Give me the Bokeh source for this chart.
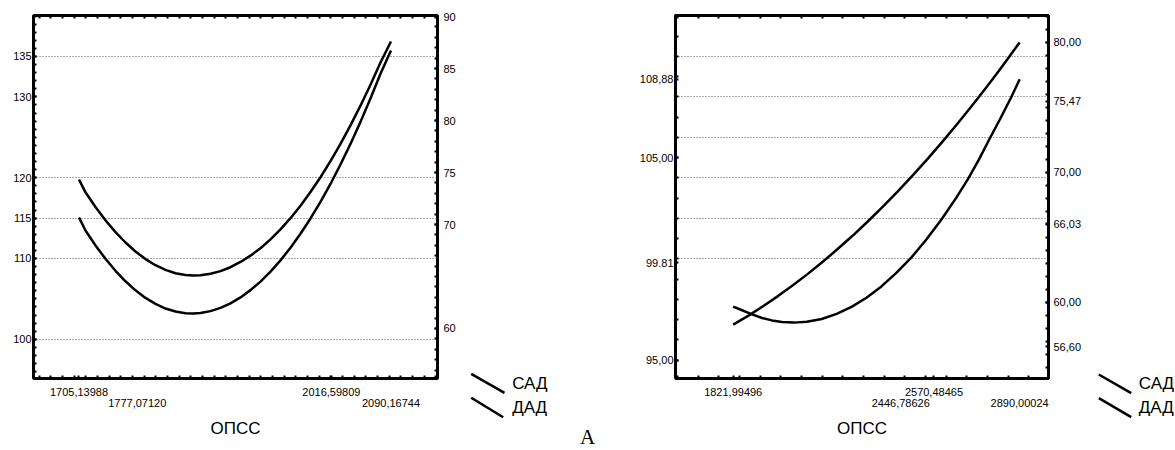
import numpy as np
from bokeh.plotting import figure
from bokeh.models import Range1d, LinearAxis, FixedTicker, CustomJSTickFormatter
from bokeh.layouts import row
from bokeh.embed import file_html
from bokeh.resources import INLINE
from bokeh.core.properties import value

FONT = "Liberation Sans"

# ---------------- Panel 1 data ----------------
p1_x = [1705.14, 1713.16, 1725.50, 1737.84, 1750.18, 1762.52, 1774.86, 1787.20, 1799.55,
        1811.89, 1824.23, 1836.57, 1846.45, 1855.09, 1867.43, 1879.77, 1892.11, 1904.45,
        1916.79, 1929.14, 1941.48, 1953.82, 1966.16, 1978.50, 1990.84, 2003.18, 2015.52,
        2027.86, 2040.20, 2052.55, 2064.88, 2077.23, 2090.17]
p1_sad = [119.78, 118.19, 116.37, 114.73, 113.27, 111.98, 110.87, 109.93, 109.17,
          108.59, 108.18, 107.96, 107.90, 107.93, 108.12, 108.44, 108.92, 109.57,
          110.35, 111.27, 112.36, 113.60, 114.99, 116.52, 118.22, 120.05, 122.04,
          124.18, 126.47, 128.91, 131.51, 134.26, 136.86]
p1_dad = [70.67, 69.42, 67.99, 66.70, 65.55, 64.54, 63.67, 62.94, 62.37,
          61.92, 61.63, 61.47, 61.44, 61.49, 61.67, 61.98, 62.42, 62.99,
          63.69, 64.51, 65.47, 66.55, 67.77, 69.11, 70.58, 72.18, 73.90,
          75.77, 77.75, 79.87, 82.12, 84.49, 86.74]

p1_x_ticks_row1 = [1705.13988, 2016.59809]
p1_x_labels_row1 = ["1705,13988", "2016,59809"]
p1_x_ticks_row2 = [1777.07120, 2090.16744]
p1_x_labels_row2 = ["1777,07120", "2090,16744"]
p1_left_ticks = [100, 110, 115, 120, 130, 135]
p1_left_labels = ["100", "110", "115", "120", "130", "135"]
p1_right_ticks = [60, 70, 75, 80, 85, 90]
p1_right_labels = ["60", "70", "75", "80", "85", "90"]
p1_grid = [100, 110, 115, 120, 135]

# ---------------- Panel 2 data ----------------
p2_sad_x = [1821.99, 1855.37, 1892.45, 1929.53, 1966.61, 2003.70, 2048.20, 2096.40,
            2152.03, 2207.66, 2263.29, 2318.92, 2374.54, 2430.17, 2485.79, 2541.42,
            2597.04, 2652.67, 2697.17, 2737.96, 2775.05, 2819.55, 2856.63, 2890.00]
p2_sad = [97.64, 97.46, 97.26, 97.08, 96.96, 96.88, 96.85, 96.89,
          97.03, 97.28, 97.63, 98.08, 98.64, 99.31, 100.06, 100.94,
          101.92, 103.00, 103.94, 104.90, 105.86, 106.97, 107.93, 108.87]
p2_dad_x = [1821.99, 1877.61, 1933.24, 1988.87, 2044.50, 2100.12, 2155.75, 2211.38,
            2267.00, 2322.63, 2378.26, 2433.89, 2489.51, 2545.14, 2600.77, 2656.40,
            2712.02, 2767.65, 2823.28, 2890.00]
p2_dad = [58.28, 58.96, 59.70, 60.48, 61.31, 62.19, 63.12, 64.10,
          65.12, 66.20, 67.33, 68.50, 69.73, 71.00, 72.33, 73.70,
          75.12, 76.59, 78.11, 80.00]

p2_x_ticks_row1 = [1821.99496, 2570.48465]
p2_x_labels_row1 = ["1821,99496", "2570,48465"]
p2_x_ticks_row2 = [2446.78626, 2890.00024]
p2_x_labels_row2 = ["2446,78626", "2890,00024"]
p2_left_ticks = [95.00, 99.81, 105.00, 108.88]
p2_left_labels = ["95,00", "99.81", "105,00", "108,88"]
p2_right_ticks = [56.60, 60.00, 66.03, 70.00, 75.47, 80.00]
p2_right_labels = ["56,60", "60,00", "66,03", "70,00", "75,47", "80,00"]
p2_grid = [100, 102, 104, 106, 108, 110]

legend_labels = ["САД", "ДАД"]
x_title = "ОПСС"
panel_tag = "А"


def fmt(ticks, labels):
    return CustomJSTickFormatter(args=dict(t=list(ticks), l=list(labels)), code="""
        for (let i = 0; i < t.length; i++) {
            if (Math.abs(t[i] - tick) < 1e-6 * Math.max(1, Math.abs(tick))) return l[i];
        }
        return "";
    """)


def style_ticks(ax, tin=3, tout=1):
    ax.axis_line_color = None
    ax.major_tick_in = tin
    ax.major_tick_out = tout
    ax.minor_tick_in = tin
    ax.minor_tick_out = tout
    ax.major_tick_line_width = 2
    ax.minor_tick_line_width = 2
    ax.major_tick_line_color = "black"
    ax.minor_tick_line_color = "black"
    ax.major_label_text_font = FONT
    ax.major_label_text_font_size = "11px"
    ax.major_label_text_color = "black"


def panel(width, bl, br, xr, yl, yr, sad_x, sad, dad_x, dad,
          r1t, r1l, r2t, r2l, lt, ll, rt, rl, grid, lminor, rminor, xminor,
          lstand, rstand):
    p = figure(width=width, height=450, x_range=Range1d(*xr), y_range=Range1d(*yl),
               output_backend="svg", toolbar_location=None,
               min_border_left=bl, min_border_right=br, min_border_top=15,
               min_border_bottom=72)
    p.extra_y_ranges = {"dad": Range1d(*yr)}
    p.outline_line_color = "black"
    p.outline_line_width = 3
    p.background_fill_color = "white"
    p.border_fill_color = "white"
    p.xgrid.visible = False
    p.ygrid.ticker = FixedTicker(ticks=grid)
    p.ygrid.grid_line_color = "#333333"
    p.ygrid.grid_line_dash = "1 2"
    p.ygrid.grid_line_width = 1
    p.ygrid.grid_line_alpha = 0.8

    lax = p.yaxis[0]
    lax.ticker = FixedTicker(ticks=lt, minor_ticks=list(lminor))
    lax.formatter = fmt(lt, ll)
    style_ticks(lax)
    lax.major_label_standoff = lstand

    rax = LinearAxis(y_range_name="dad", ticker=FixedTicker(ticks=rt, minor_ticks=list(rminor)),
                     formatter=fmt(rt, rl))
    style_ticks(rax)
    rax.major_label_standoff = rstand
    p.add_layout(rax, "right")

    bx = p.xaxis[0]
    bx.ticker = FixedTicker(ticks=r1t, minor_ticks=list(xminor))
    bx.formatter = fmt(r1t, r1l)
    style_ticks(bx)
    bx.major_label_standoff = 8

    bx2 = LinearAxis(ticker=FixedTicker(ticks=r2t), formatter=fmt(r2t, r2l))
    style_ticks(bx2, 0, 0)
    bx2.major_tick_line_color = None
    bx2.minor_tick_line_color = None
    bx2.major_label_standoff = 0
    bx2.axis_label = x_title
    bx2.axis_label_text_font = FONT
    bx2.axis_label_text_font_size = "17px"
    bx2.axis_label_text_font_style = "normal"
    bx2.axis_label_text_color = "black"
    bx2.axis_label_standoff = 9
    p.add_layout(bx2, "below")

    tx = LinearAxis(ticker=FixedTicker(ticks=[], minor_ticks=list(xminor)))
    style_ticks(tx, 3, 0)
    tx.major_label_text_font_size = "0px"
    tx.major_label_standoff = 0
    p.add_layout(tx, "above")

    p.line(sad_x, sad, line_color="black", line_width=2.5, line_join="round")
    p.line(dad_x, dad, line_color="black", line_width=2.5, line_join="round", y_range_name="dad")
    return p


def legend_fig(width, l1, l2, tx, ty, tag=None):
    f = figure(width=width, height=450, x_range=Range1d(0, width), y_range=Range1d(450, 0),
               output_backend="svg", toolbar_location=None, min_border=0,
               x_axis_location=None, y_axis_location=None, frame_align=False)
    f.grid.visible = False
    f.outline_line_color = None
    f.segment(x0=[l1[0], l2[0]], y0=[l1[1], l2[1]], x1=[l1[2], l2[2]], y1=[l1[3], l2[3]],
              line_color="black", line_width=2.5)
    f.text(x=[tx, tx], y=ty, text=legend_labels, text_font=value(FONT),
           text_font_size="17px", text_baseline="middle", text_align="left", text_color="black")
    if tag is not None:
        f.text(x=[tag[0]], y=[tag[1]], text=[panel_tag], text_font=value("Liberation Serif"),
               text_font_size="21px", text_baseline="middle", text_align="center", text_color="black")
    return f


p1 = panel(465, 33, 28, (1649.0, 2147.6), (95.15, 140.07), (55.19, 90.1),
           p1_x, p1_sad, p1_x, p1_dad,
           p1_x_ticks_row1, p1_x_labels_row1, p1_x_ticks_row2, p1_x_labels_row2,
           p1_left_ticks, p1_left_labels, p1_right_ticks, p1_right_labels, p1_grid,
           np.arange(96, 141, 1.0), np.arange(56, 91, 1.0), np.arange(1656, 2147, 14.4),
           1, 5)

leg1 = legend_fig(171, (5.7, 373.3, 39, 392.3), (5.7, 397.3, 37.7, 416.7), 46.7, [383, 407],
                  tag=(122, 436))

p2 = panel(448, 37, 36, (1606.9, 2997.5), (94.09, 112.02), (54.14, 82.07),
           p2_sad_x, p2_sad, p2_dad_x, p2_dad,
           p2_x_ticks_row1, p2_x_labels_row1, p2_x_ticks_row2, p2_x_labels_row2,
           p2_left_ticks, p2_left_labels, p2_right_ticks, p2_right_labels, p2_grid,
           np.arange(95, 113, 1.0), np.arange(55, 83, 1.0), np.arange(1615, 2997, 77.0),
           1, 4)

leg2 = legend_fig(91, (14.3, 374, 46.7, 392.7), (14.3, 397.7, 46.7, 416.7), 54.3, [383, 407])

layout = row(p1, leg1, p2, leg2, spacing=0)
open("out.html", "w").write(file_html(layout, INLINE))
